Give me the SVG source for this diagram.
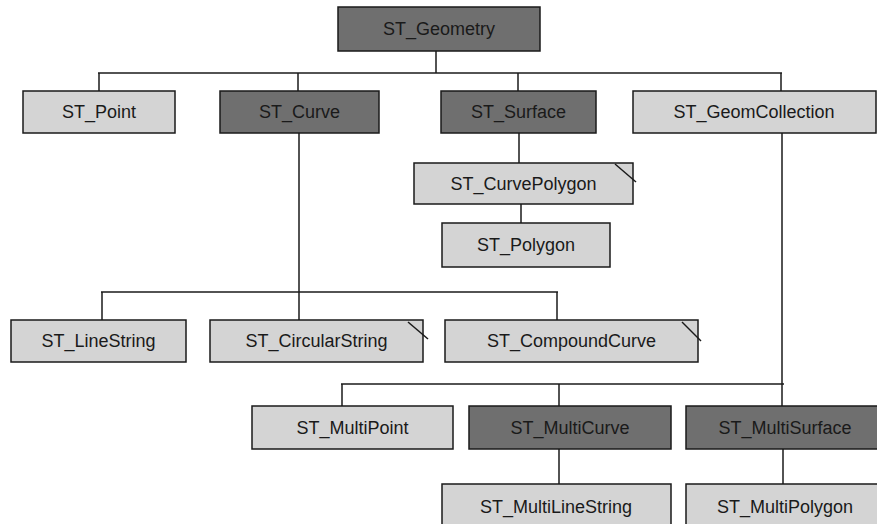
<svg xmlns="http://www.w3.org/2000/svg" width="877" height="524" viewBox="0 0 877 524">
<style>
rect{stroke:#1a1a1a;stroke-width:1.5}
.d{fill:#6f6f6f}
.l{fill:#d4d4d4}
text{font-family:"Liberation Sans",Arial,sans-serif;font-size:18px;fill:#1a1a1a;text-anchor:middle}
.c line,.m{stroke:#1a1a1a;stroke-width:1.5;fill:none}
</style>
<rect x="0" y="0" width="877" height="524" fill="#ffffff" style="stroke:none"/>
<g class="c" id="connectors">
<line x1="436" y1="51" x2="436" y2="73"/>
<line x1="98" y1="73" x2="782" y2="73"/>
<line x1="99" y1="73" x2="99" y2="91"/>
<line x1="298" y1="73" x2="298" y2="91"/>
<line x1="518" y1="73" x2="518" y2="91"/>
<line x1="781" y1="73" x2="781" y2="91"/>
<line x1="299" y1="133" x2="299" y2="320"/>
<line x1="101" y1="292" x2="558" y2="292"/>
<line x1="102" y1="292" x2="102" y2="320"/>
<line x1="557" y1="292" x2="557" y2="320"/>
<line x1="519" y1="133" x2="519" y2="163"/>
<line x1="521" y1="204" x2="521" y2="223"/>
<line x1="782" y1="133" x2="782" y2="406"/>
<line x1="341" y1="384" x2="784" y2="384"/>
<line x1="342" y1="384" x2="342" y2="406"/>
<line x1="559" y1="384" x2="559" y2="406"/>
<line x1="559" y1="449" x2="559" y2="484"/>
<line x1="783" y1="449" x2="783" y2="484"/>
</g>
<g id="ST_Geometry"><rect class="d" x="338" y="7" width="202" height="44"/><text x="439" y="35">ST_Geometry</text></g>
<g id="ST_Point"><rect class="l" x="23" y="91" width="152" height="42"/><text x="99" y="118">ST_Point</text></g>
<g id="ST_Curve"><rect class="d" x="220" y="91" width="159" height="42"/><text x="299.5" y="118">ST_Curve</text></g>
<g id="ST_Surface"><rect class="d" x="441" y="91" width="155" height="42"/><text x="518.5" y="118">ST_Surface</text></g>
<g id="ST_GeomCollection"><rect class="l" x="633" y="91" width="243" height="42"/><text x="754" y="118">ST_GeomCollection</text></g>
<g id="ST_CurvePolygon"><rect class="l" x="414" y="163" width="219" height="41"/><line class="m" x1="615" y1="164" x2="636" y2="182"/><text x="523.5" y="190">ST_CurvePolygon</text></g>
<g id="ST_Polygon"><rect class="l" x="442" y="223" width="168" height="44"/><text x="526" y="251">ST_Polygon</text></g>
<g id="ST_LineString"><rect class="l" x="11" y="320" width="175" height="42"/><text x="98.5" y="347">ST_LineString</text></g>
<g id="ST_CircularString"><rect class="l" x="210" y="320" width="213" height="42"/><line class="m" x1="408" y1="322" x2="428" y2="339"/><text x="316.5" y="347">ST_CircularString</text></g>
<g id="ST_CompoundCurve"><rect class="l" x="445" y="320" width="253" height="42"/><line class="m" x1="682" y1="322" x2="701" y2="341"/><text x="571.5" y="347">ST_CompoundCurve</text></g>
<g id="ST_MultiPoint"><rect class="l" x="252" y="406" width="201" height="43"/><text x="352.5" y="434">ST_MultiPoint</text></g>
<g id="ST_MultiCurve"><rect class="d" x="469" y="406" width="202" height="43"/><text x="570" y="434">ST_MultiCurve</text></g>
<g id="ST_MultiSurface"><rect class="d" x="686" y="406" width="198" height="43"/><text x="785" y="434">ST_MultiSurface</text></g>
<g id="ST_MultiLineString"><rect class="l" x="442" y="484" width="229" height="46"/><text x="556" y="513">ST_MultiLineString</text></g>
<g id="ST_MultiPolygon"><rect class="l" x="686" y="484" width="198" height="46"/><text x="785" y="513">ST_MultiPolygon</text></g>
</svg>
